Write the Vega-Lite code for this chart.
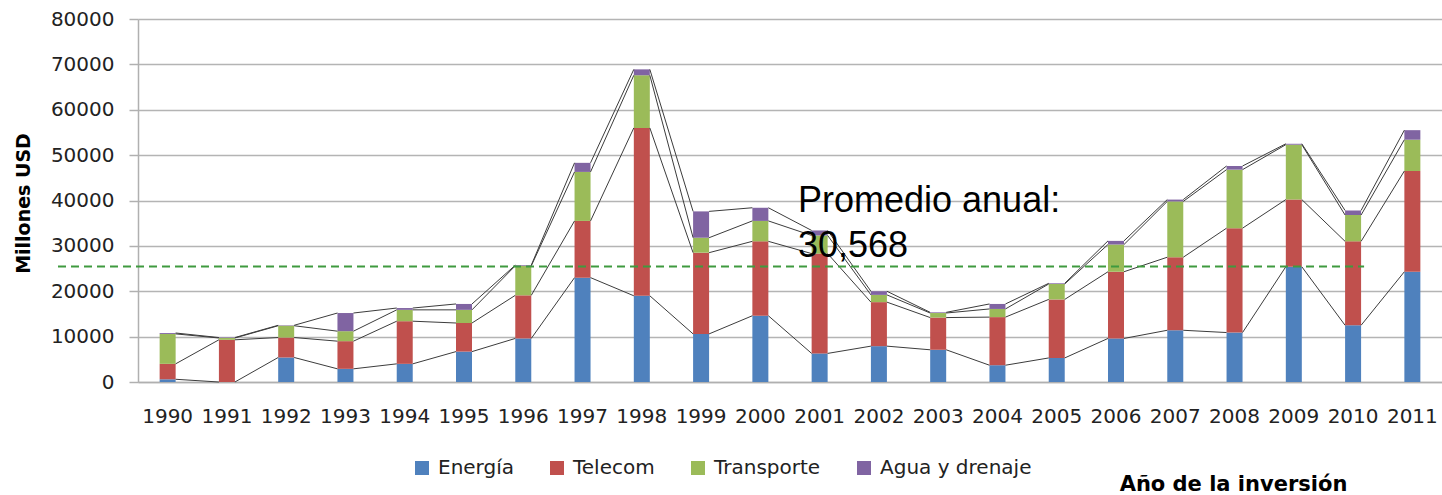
{
  "$schema": "https://vega.github.io/schema/vega-lite/v6.json",
  "width": 1304,
  "height": 363,
  "autosize": {"type": "none"},
  "padding": {"left": 138, "top": 19, "right": 0, "bottom": 113},
  "background": "white",
  "config": {"view": {"stroke": null}, "font": "DejaVu Sans"},
  "datasets": {
    "inv": [
      {"year": "1990", "cat": "Energía", "value": 600}, {"year": "1990", "cat": "Telecom", "value": 3400}, {"year": "1990", "cat": "Transporte", "value": 6600}, {"year": "1990", "cat": "Agua y drenaje", "value": 200},
      {"year": "1991", "cat": "Energía", "value": 0}, {"year": "1991", "cat": "Telecom", "value": 9300}, {"year": "1991", "cat": "Transporte", "value": 400}, {"year": "1991", "cat": "Agua y drenaje", "value": 100},
      {"year": "1992", "cat": "Energía", "value": 5400}, {"year": "1992", "cat": "Telecom", "value": 4400}, {"year": "1992", "cat": "Transporte", "value": 2600}, {"year": "1992", "cat": "Agua y drenaje", "value": 100},
      {"year": "1993", "cat": "Energía", "value": 2900}, {"year": "1993", "cat": "Telecom", "value": 6100}, {"year": "1993", "cat": "Transporte", "value": 2200}, {"year": "1993", "cat": "Agua y drenaje", "value": 4000},
      {"year": "1994", "cat": "Energía", "value": 4000}, {"year": "1994", "cat": "Telecom", "value": 9400}, {"year": "1994", "cat": "Transporte", "value": 2500}, {"year": "1994", "cat": "Agua y drenaje", "value": 400},
      {"year": "1995", "cat": "Energía", "value": 6700}, {"year": "1995", "cat": "Telecom", "value": 6300}, {"year": "1995", "cat": "Transporte", "value": 2900}, {"year": "1995", "cat": "Agua y drenaje", "value": 1300},
      {"year": "1996", "cat": "Energía", "value": 9600}, {"year": "1996", "cat": "Telecom", "value": 9500}, {"year": "1996", "cat": "Transporte", "value": 6500}, {"year": "1996", "cat": "Agua y drenaje", "value": 150},
      {"year": "1997", "cat": "Energía", "value": 23000}, {"year": "1997", "cat": "Telecom", "value": 12500}, {"year": "1997", "cat": "Transporte", "value": 10800}, {"year": "1997", "cat": "Agua y drenaje", "value": 2000},
      {"year": "1998", "cat": "Energía", "value": 19000}, {"year": "1998", "cat": "Telecom", "value": 37000}, {"year": "1998", "cat": "Transporte", "value": 11600}, {"year": "1998", "cat": "Agua y drenaje", "value": 1300},
      {"year": "1999", "cat": "Energía", "value": 10600}, {"year": "1999", "cat": "Telecom", "value": 17900}, {"year": "1999", "cat": "Transporte", "value": 3300}, {"year": "1999", "cat": "Agua y drenaje", "value": 5800},
      {"year": "2000", "cat": "Energía", "value": 14600}, {"year": "2000", "cat": "Telecom", "value": 16400}, {"year": "2000", "cat": "Transporte", "value": 4500}, {"year": "2000", "cat": "Agua y drenaje", "value": 2900},
      {"year": "2001", "cat": "Energía", "value": 6300}, {"year": "2001", "cat": "Telecom", "value": 22000}, {"year": "2001", "cat": "Transporte", "value": 4000}, {"year": "2001", "cat": "Agua y drenaje", "value": 1100},
      {"year": "2002", "cat": "Energía", "value": 7900}, {"year": "2002", "cat": "Telecom", "value": 9700}, {"year": "2002", "cat": "Transporte", "value": 1600}, {"year": "2002", "cat": "Agua y drenaje", "value": 800},
      {"year": "2003", "cat": "Energía", "value": 7100}, {"year": "2003", "cat": "Telecom", "value": 7100}, {"year": "2003", "cat": "Transporte", "value": 1000}, {"year": "2003", "cat": "Agua y drenaje", "value": 150},
      {"year": "2004", "cat": "Energía", "value": 3700}, {"year": "2004", "cat": "Telecom", "value": 10600}, {"year": "2004", "cat": "Transporte", "value": 1800}, {"year": "2004", "cat": "Agua y drenaje", "value": 1100},
      {"year": "2005", "cat": "Energía", "value": 5300}, {"year": "2005", "cat": "Telecom", "value": 12900}, {"year": "2005", "cat": "Transporte", "value": 3400}, {"year": "2005", "cat": "Agua y drenaje", "value": 150},
      {"year": "2006", "cat": "Energía", "value": 9600}, {"year": "2006", "cat": "Telecom", "value": 14700}, {"year": "2006", "cat": "Transporte", "value": 6000}, {"year": "2006", "cat": "Agua y drenaje", "value": 800},
      {"year": "2007", "cat": "Energía", "value": 11400}, {"year": "2007", "cat": "Telecom", "value": 16100}, {"year": "2007", "cat": "Transporte", "value": 12300}, {"year": "2007", "cat": "Agua y drenaje", "value": 400},
      {"year": "2008", "cat": "Energía", "value": 10900}, {"year": "2008", "cat": "Telecom", "value": 23000}, {"year": "2008", "cat": "Transporte", "value": 12900}, {"year": "2008", "cat": "Agua y drenaje", "value": 800},
      {"year": "2009", "cat": "Energía", "value": 25400}, {"year": "2009", "cat": "Telecom", "value": 14800}, {"year": "2009", "cat": "Transporte", "value": 12100}, {"year": "2009", "cat": "Agua y drenaje", "value": 200},
      {"year": "2010", "cat": "Energía", "value": 12500}, {"year": "2010", "cat": "Telecom", "value": 18500}, {"year": "2010", "cat": "Transporte", "value": 5800}, {"year": "2010", "cat": "Agua y drenaje", "value": 1000},
      {"year": "2011", "cat": "Energía", "value": 24300}, {"year": "2011", "cat": "Telecom", "value": 22200}, {"year": "2011", "cat": "Transporte", "value": 6900}, {"year": "2011", "cat": "Agua y drenaje", "value": 2100}
    ],
    "note": [{"label": "Promedio anual"}]
  },
  "data": {"name": "inv"},
  "transform": [
    {"calculate": "indexof(['Energía','Telecom','Transporte','Agua y drenaje'], datum.cat)", "as": "k"}
  ],
  "encoding": {
    "x": {
      "field": "year",
      "type": "ordinal",
      "scale": {"paddingInner": 0, "paddingOuter": 0},
      "axis": {
        "title": "Año de la inversión",
        "labelAngle": 0,
        "labelFont": "DejaVu Sans",
        "labelFontSize": 20,
        "labelColor": "#222222",
        "labelPadding": 24,
        "ticks": false,
        "grid": false,
        "domain": true,
        "domainColor": "#b0b0b0",
        "domainWidth": 1.5,
        "titleFont": "DejaVu Sans",
        "titleFontSize": 21,
        "titleFontWeight": "bold",
        "titleColor": "#000000",
        "titleAlign": "center",
        "titleBaseline": "alphabetic",
        "titleX": 1095,
        "titleY": 108
      }
    }
  },
  "layer": [
    {
      "mark": {"type": "bar", "width": 16},
      "encoding": {
        "y": {
          "field": "value",
          "type": "quantitative",
          "stack": "zero",
          "scale": {"domain": [0, 80000], "nice": false},
          "axis": {
            "title": "Millones USD",
            "values": [0, 10000, 20000, 30000, 40000, 50000, 60000, 70000, 80000],
            "format": "d",
            "labelFont": "DejaVu Sans",
            "labelFontSize": 20,
            "labelColor": "#222222",
            "labelPadding": 15,
            "tickSize": 9,
            "tickColor": "#b0b0b0",
            "tickWidth": 1.5,
            "domainColor": "#b0b0b0",
            "domainWidth": 1.5,
            "gridColor": "#b4b4b4",
            "gridWidth": 1.5,
            "titleFont": "DejaVu Sans",
            "titleFontSize": 19,
            "titleFontWeight": "bold",
            "titleColor": "#000000",
            "titleAngle": 270,
            "titleAlign": "center",
            "titleBaseline": "middle",
            "titleX": -115,
            "titleY": 184
          }
        },
        "color": {
          "field": "cat",
          "type": "nominal",
          "scale": {
            "domain": ["Energía", "Telecom", "Transporte", "Agua y drenaje"],
            "range": ["#4F81BD", "#C0504D", "#9BBB59", "#8064A2"]
          },
          "legend": {
            "orient": "none",
            "legendX": 274,
            "legendY": 439,
            "direction": "horizontal",
            "columns": 4,
            "title": null,
            "padding": 0,
            "symbolType": "square",
            "symbolSize": 196,
            "symbolStrokeWidth": 0,
            "symbolOpacity": 1,
            "labelFont": "DejaVu Sans",
            "labelFontSize": 20,
            "labelColor": "#222222",
            "labelOffset": 6,
            "columnPadding": 33
          }
        },
        "order": {"field": "k", "type": "quantitative"}
      }
    },
    {
      "transform": [
        {"stack": "value", "groupby": ["year"], "sort": [{"field": "k", "order": "ascending"}], "as": ["y0", "y1"]},
        {"window": [{"op": "lead", "field": "year", "as": "nextYear"}, {"op": "lead", "field": "y1", "as": "nextY"}], "groupby": ["cat"], "sort": [{"field": "year", "order": "ascending"}]},
        {"filter": "datum.nextYear != null"}
      ],
      "mark": {"type": "rule", "xOffset": 8, "x2Offset": -8, "color": "#3c3c3c", "strokeWidth": 1},
      "encoding": {
        "x2": {"field": "nextYear"},
        "y": {"field": "y1", "type": "quantitative"},
        "y2": {"field": "nextY"}
      }
    },
    {
      "data": {"name": "note"},
      "mark": {"type": "rule", "color": "#3f9a3f", "strokeWidth": 2, "strokeDash": [8, 5], "xOffset": -80, "x2Offset": 11},
      "encoding": {
        "x": {"datum": "1990", "type": "ordinal", "bandPosition": 0},
        "x2": {"datum": "2010"},
        "y": {"datum": 25440, "type": "quantitative"}
      }
    },
    {
      "data": {"name": "note"},
      "mark": {"type": "text", "text": ["Promedio anual:", "30,568"], "font": "Liberation Sans", "fontSize": 36, "align": "left", "baseline": "alphabetic", "lineHeight": 45, "dx": 8, "color": "#000000"},
      "encoding": {
        "x": {"datum": "2001", "type": "ordinal", "bandPosition": 0},
        "y": {"datum": 37440, "type": "quantitative"}
      }
    }
  ]
}
